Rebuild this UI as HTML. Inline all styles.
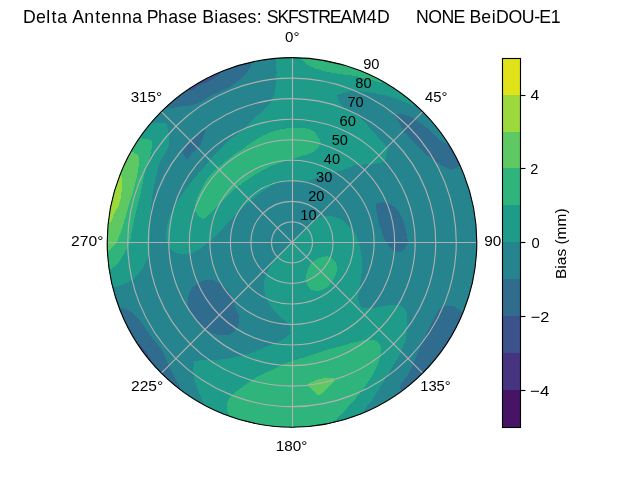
<!DOCTYPE html>
<html><head><meta charset="utf-8"><title>Delta Antenna Phase Biases</title>
<style>
html,body{margin:0;padding:0;background:#fff;}
body{width:640px;height:480px;overflow:hidden;font-family:"Liberation Sans",sans-serif;}
svg{display:block;will-change:transform;}
text{font-family:"Liberation Sans",sans-serif;fill:#000;white-space:pre;}
</style></head><body>
<svg width="640" height="480" viewBox="0 0 640 480">
<rect width="640" height="480" fill="#fff"/>
<defs><clipPath id="disk"><circle cx="292.0" cy="242.4" r="184.8"/></clipPath></defs>
<g clip-path="url(#disk)" shape-rendering="crispEdges">
<circle cx="292.0" cy="242.4" r="186.8" fill="#25848e"/>
<path d="M150.0 123.0C153.4 124.0 162.4 122.0 165.0 123.0C167.6 124.0 167.4 126.7 168.0 130.0C168.6 133.3 170.1 141.4 169.0 146.0C167.9 150.6 162.1 156.3 160.0 162.0C157.9 167.7 155.3 179.7 154.0 186.0C152.7 192.3 151.6 200.3 151.0 206.0C150.4 211.7 150.1 220.9 150.0 226.0C149.9 231.1 150.1 238.0 150.0 242.0C149.9 246.0 150.0 250.3 149.0 254.0C148.0 257.7 145.4 264.3 143.0 268.0C140.6 271.7 135.0 277.6 132.0 280.0C129.0 282.4 124.4 284.0 122.0 285.0C119.6 286.0 118.0 286.2 115.0 287.0C112.0 287.8 101.2 290.5 101.2 290.5L97.5 272.2L95.5 253.7L95.3 235.1L96.9 216.6L100.2 198.3L105.2 180.4L111.9 163.0L120.2 146.3L130.1 130.5L141.4 115.7C141.4 115.7 146.6 122.0 150.0 123.0Z" fill="#1e9c89"/>
<path d="M275.4 58.4C275.7 62.1 276.7 67.5 276.6 72.0C276.5 76.5 275.8 85.7 275.0 90.0C274.2 94.3 272.6 99.1 271.0 102.0C269.4 104.9 266.7 107.4 264.0 110.0C261.3 112.6 255.0 117.1 252.0 120.0C249.0 122.9 245.8 127.5 243.0 130.0C240.2 132.5 235.5 134.9 232.5 137.5C229.5 140.1 225.0 145.0 222.0 148.0C219.0 151.0 214.3 155.5 211.5 158.5C208.7 161.5 205.0 166.1 202.5 169.0C200.0 171.9 196.2 175.9 194.0 178.5C191.8 181.1 188.9 185.0 187.0 187.5C185.1 190.0 182.8 193.4 181.0 196.0C179.2 198.6 176.5 202.6 174.7 206.0C172.9 209.4 169.9 216.1 168.7 219.5C167.5 222.9 166.5 227.0 166.2 230.0C165.9 233.0 166.0 237.9 166.5 240.5C167.0 243.1 168.0 246.2 169.5 248.0C171.0 249.8 174.4 252.4 177.0 253.2C179.6 254.0 184.7 254.0 187.5 253.7C190.3 253.4 193.9 252.2 196.5 251.0C199.1 249.8 203.1 246.8 205.5 245.0C207.9 243.2 211.1 239.9 213.0 238.2C214.9 236.5 217.1 235.0 219.0 233.0C220.9 231.0 224.1 226.6 226.5 224.0C228.9 221.4 232.9 217.6 235.5 215.0C238.1 212.4 241.9 208.4 244.5 206.0C247.1 203.6 251.0 200.5 253.5 198.5C256.0 196.5 259.1 194.0 262.0 192.0C264.9 190.0 271.0 186.0 274.0 184.5C277.0 183.0 280.2 181.9 283.0 181.5C285.8 181.1 290.5 181.3 293.5 181.5C296.5 181.7 301.6 182.8 304.0 182.7C306.4 182.6 307.4 181.5 310.0 180.5C312.6 179.5 318.6 177.2 322.0 176.0C325.4 174.8 331.4 172.9 334.0 172.2C336.6 171.5 338.0 171.6 340.0 171.0C342.0 170.4 345.7 168.9 348.0 168.0C350.3 167.1 354.3 165.5 356.0 165.0C357.7 164.5 358.0 164.8 360.0 164.7C362.0 164.6 367.4 164.4 370.0 164.2C372.6 164.0 375.9 163.7 378.0 163.2C380.1 162.7 383.8 162.2 385.0 161.0C386.2 159.8 386.1 156.8 386.5 155.0C386.9 153.2 387.7 148.2 387.7 148.2C387.7 148.2 381.7 141.0 379.5 138.5C377.3 136.0 373.9 133.1 372.0 131.0C370.1 128.9 368.1 125.9 366.5 124.0C364.9 122.1 362.4 119.7 360.5 118.0C358.6 116.3 355.1 113.4 353.0 112.0C350.9 110.6 347.2 109.3 345.5 108.2C343.8 107.1 342.2 106.3 341.0 104.5C339.8 102.7 336.8 97.1 337.2 95.5C337.6 93.9 341.7 93.8 344.0 93.2C346.3 92.6 350.2 91.2 353.0 91.0C355.8 90.8 360.5 91.4 363.5 91.7C366.5 92.0 370.8 92.7 374.0 93.2C377.2 93.7 383.1 94.8 386.0 95.5C388.9 96.2 392.0 97.1 394.5 98.0C397.0 98.9 401.3 100.6 403.5 101.5C405.7 102.4 408.5 104.0 410.0 104.5C411.5 105.0 412.2 106.3 414.0 105.0C415.8 103.7 422.7 95.2 422.7 95.2L407.0 82.7L390.1 71.8L372.3 62.7L353.5 55.5L334.2 50.2L314.4 46.9L294.4 45.6L274.3 46.4C274.3 46.4 275.1 54.7 275.4 58.4Z" fill="#1e9c89"/>
<path d="M292.0 242.4C292.0 242.4 298.0 236.4 300.5 233.9C303.0 231.4 309.5 224.7 309.5 224.7C309.5 224.7 313.6 220.7 315.5 219.5C317.4 218.3 320.6 216.9 323.0 216.5C325.4 216.1 329.4 216.1 332.0 216.5C334.6 216.9 338.6 218.2 341.0 219.5C343.4 220.8 346.9 224.0 348.5 225.5C350.1 227.0 351.5 228.9 352.5 230.0C353.5 231.1 354.6 231.8 355.5 233.5C356.4 235.2 357.8 239.6 358.5 242.2C359.2 244.8 360.2 248.7 360.7 251.5C361.2 254.3 361.9 258.8 362.0 262.0C362.1 265.2 361.8 270.6 361.5 274.0C361.2 277.4 360.5 282.9 360.0 286.0C359.5 289.1 357.9 293.0 358.0 296.0C358.1 299.0 359.0 305.3 361.0 307.0C363.0 308.7 368.4 308.2 372.0 308.0C375.6 307.8 382.3 306.0 386.0 305.6C389.7 305.2 395.3 304.5 398.0 305.0C400.7 305.5 403.7 307.1 405.0 309.0C406.3 310.9 406.9 313.9 407.0 318.0C407.1 322.1 406.9 333.1 406.0 338.0C405.1 342.9 403.0 347.7 401.0 352.0C399.0 356.3 394.7 363.4 392.0 368.0C389.3 372.6 384.9 379.4 382.0 384.0C379.1 388.6 374.6 396.1 372.0 400.0C369.4 403.9 364.4 407.7 364.0 411.0C363.6 414.3 369.3 423.4 369.3 423.4L350.8 430.2L331.8 435.1L312.3 438.1L292.7 439.2L273.0 438.3L253.6 435.4L234.5 430.6L216.0 423.9L198.2 415.4C198.2 415.4 203.5 407.0 204.0 404.8C204.5 402.6 202.7 401.8 202.0 400.0C201.3 398.2 199.9 394.6 199.0 392.5C198.1 390.4 196.7 387.1 196.0 385.0C195.3 382.9 194.7 380.0 194.3 378.0C193.9 376.0 193.2 373.4 193.2 371.0C193.2 368.6 194.2 361.2 194.2 361.2C194.2 361.2 202.0 359.9 205.5 359.7C209.0 359.5 215.4 359.9 219.0 359.7C222.6 359.5 227.6 358.8 231.0 358.2C234.4 357.6 239.6 356.2 243.0 355.2C246.4 354.2 251.8 352.7 255.0 351.5C258.2 350.3 262.5 348.2 265.5 347.0C268.5 345.8 273.5 344.3 276.0 343.2C278.5 342.1 281.0 340.8 283.0 339.5C285.0 338.2 290.2 334.0 290.2 334.0C290.2 334.0 290.5 329.5 290.2 328.0C289.9 326.5 289.2 324.9 288.0 323.5C286.8 322.1 283.8 319.9 282.0 318.2C280.2 316.5 277.0 313.5 275.2 311.5C273.4 309.5 270.6 306.1 269.2 304.0C267.8 301.9 266.2 298.9 265.5 296.5C264.8 294.1 264.1 290.1 264.0 287.5C263.9 284.9 264.1 281.1 264.7 278.5C265.3 275.9 267.3 271.9 268.5 269.5C269.7 267.1 271.0 264.5 273.0 262.0C275.0 259.5 279.8 254.8 282.5 252.0C285.2 249.2 292.0 242.4 292.0 242.4Z" fill="#1e9c89"/>
<path d="M140.0 138.0C143.0 139.3 149.3 138.9 151.0 140.0C152.7 141.1 152.1 143.7 152.0 146.0C151.9 148.3 151.0 152.3 150.0 156.0C149.0 159.7 146.3 166.9 145.0 172.0C143.7 177.1 142.3 186.3 141.0 192.0C139.7 197.7 137.3 206.6 136.0 212.0C134.7 217.4 132.9 225.7 132.0 230.0C131.1 234.3 131.0 238.9 130.0 242.0C129.0 245.1 126.6 249.1 125.0 252.0C123.4 254.9 121.0 259.6 119.0 262.0C117.0 264.4 114.1 267.7 111.0 269.0C107.9 270.3 97.3 271.0 97.3 271.0L95.5 252.7L95.4 234.3L97.0 216.0L100.3 197.9L105.3 180.2L111.9 163.1L120.1 146.6L129.8 131.0C129.8 131.0 137.0 136.7 140.0 138.0Z" fill="#2fb47c"/>
<path d="M320.5 143.0C320.2 144.8 317.5 148.2 316.0 149.7C314.5 151.2 311.9 152.6 310.0 153.5C308.1 154.4 304.9 155.0 302.5 155.7C300.1 156.4 296.3 157.8 293.5 158.7C290.7 159.6 286.0 160.7 283.0 161.7C280.0 162.7 275.5 164.2 272.5 165.5C269.5 166.8 264.8 169.2 262.0 170.7C259.2 172.2 255.6 174.4 253.0 176.0C250.4 177.6 246.5 180.2 244.0 182.0C241.5 183.8 237.9 186.4 235.5 188.5C233.1 190.6 229.4 194.1 227.0 196.5C224.6 198.9 220.9 202.6 218.5 205.0C216.1 207.4 212.1 211.5 210.0 213.5C207.9 215.5 205.4 218.2 204.0 218.7C202.6 219.2 201.5 218.4 200.2 217.2C198.9 216.0 195.5 213.0 195.0 210.5C194.5 208.0 195.6 203.0 196.5 200.0C197.4 197.0 199.5 192.5 201.0 189.5C202.5 186.5 205.1 181.7 207.0 179.0C208.9 176.3 212.1 172.8 214.5 170.5C216.9 168.2 220.7 165.3 223.5 163.0C226.3 160.7 231.1 156.8 234.0 154.7C236.9 152.6 241.3 149.9 244.0 148.0C246.7 146.1 250.2 143.3 253.0 141.5C255.8 139.7 260.5 137.0 263.5 135.5C266.5 134.0 271.0 132.0 274.0 131.0C277.0 130.0 281.5 129.2 284.5 128.7C287.5 128.2 292.2 127.8 295.0 127.7C297.8 127.6 301.4 127.5 304.0 128.0C306.6 128.5 311.0 129.7 313.0 131.0C315.0 132.3 317.1 135.3 318.2 137.0C319.3 138.7 320.8 141.2 320.5 143.0Z" fill="#2fb47c"/>
<path d="M302.0 58.7C302.5 61.3 304.6 62.6 306.5 64.0C308.4 65.4 312.7 67.4 315.5 68.5C318.3 69.6 322.8 70.8 326.0 71.5C329.2 72.2 334.8 73.2 338.0 73.7C341.2 74.2 345.9 74.9 348.5 75.2C351.1 75.5 353.9 75.6 356.0 76.0C358.1 76.4 360.9 77.6 363.5 78.2C366.1 78.8 371.6 79.9 374.0 80.5C376.4 81.1 378.6 82.6 380.0 82.7C381.4 82.8 382.2 83.1 383.5 81.5C384.8 79.9 389.3 71.3 389.3 71.3L373.1 63.1L356.1 56.3L338.7 51.2L320.8 47.7L302.7 45.9C302.7 45.9 301.5 56.1 302.0 58.7Z" fill="#2fb47c"/>
<path d="M314.0 261.0C315.7 259.9 319.7 257.6 322.0 257.0C324.3 256.4 328.0 256.1 330.0 257.0C332.0 257.9 335.0 261.1 336.0 263.0C337.0 264.9 337.4 267.6 337.0 270.0C336.6 272.4 334.6 277.4 333.0 280.0C331.4 282.6 328.1 286.4 326.0 288.0C323.9 289.6 320.3 290.9 318.0 291.0C315.7 291.1 311.7 290.4 310.0 289.0C308.3 287.6 306.4 283.4 306.0 281.0C305.6 278.6 306.4 274.3 307.0 272.0C307.6 269.7 309.0 266.6 310.0 265.0C311.0 263.4 312.3 262.1 314.0 261.0Z" fill="#2fb47c"/>
<path d="M229.3 416.0C229.7 413.9 228.6 413.9 228.2 412.7C227.8 411.5 226.8 409.0 226.7 407.5C226.6 406.0 227.0 403.7 227.5 402.2C228.0 400.7 229.0 398.7 230.5 397.0C232.0 395.3 235.4 392.2 238.0 390.2C240.6 388.2 245.5 384.7 248.5 382.7C251.5 380.7 256.4 377.5 259.0 376.0C261.6 374.5 264.6 373.1 267.0 372.0C269.4 370.9 273.0 369.6 276.0 368.2C279.0 366.8 284.0 363.9 288.0 362.4C292.0 360.9 299.1 359.0 304.0 357.4C308.9 355.8 316.9 353.0 322.0 351.4C327.1 349.8 335.1 347.7 340.0 346.4C344.9 345.1 352.6 342.9 356.0 342.0C359.4 341.1 361.4 340.3 364.0 340.0C366.6 339.7 371.7 339.4 374.0 340.0C376.3 340.6 379.0 342.3 380.0 344.0C381.0 345.7 381.3 349.1 381.0 352.0C380.7 354.9 379.3 360.6 378.0 364.0C376.7 367.4 374.0 372.6 372.0 376.0C370.0 379.4 366.3 384.9 364.0 388.0C361.7 391.1 358.3 395.3 356.0 398.0C353.7 400.7 350.6 404.1 348.0 407.0C345.4 409.9 340.3 415.7 338.0 418.0C335.7 420.3 332.5 420.6 332.0 423.0C331.5 425.4 334.6 434.5 334.6 434.5L316.3 437.7L297.9 439.1L279.4 438.8L261.0 436.7L242.8 433.0L225.1 427.5C225.1 427.5 228.9 418.1 229.3 416.0Z" fill="#2fb47c"/>
<path d="M133.0 152.0C135.6 153.8 138.4 154.6 139.0 158.0C139.6 161.4 137.9 171.1 137.0 176.0C136.1 180.9 134.3 187.4 133.0 192.0C131.7 196.6 129.3 203.7 128.0 208.0C126.7 212.3 125.1 218.3 124.0 222.0C122.9 225.7 121.0 231.1 120.0 234.0C119.0 236.9 118.0 240.3 117.0 242.0C116.0 243.7 114.3 244.7 113.0 246.0C111.7 247.3 110.5 250.2 108.0 251.0C105.5 251.8 95.4 251.6 95.4 251.6L95.4 233.1L97.2 214.7L100.6 196.6L105.8 178.8L112.5 161.6L120.9 145.1C120.9 145.1 130.4 150.2 133.0 152.0Z" fill="#5ec962"/>
<path d="M308.0 385.0C308.0 383.6 311.7 382.0 314.0 381.0C316.3 380.0 321.3 378.4 324.0 378.0C326.7 377.6 331.6 377.6 333.0 378.0C334.4 378.4 334.7 379.6 334.0 381.0C333.3 382.4 330.1 386.0 328.0 388.0C325.9 390.0 321.0 394.6 319.0 395.0C317.0 395.4 315.6 392.4 314.0 391.0C312.4 389.6 308.0 386.4 308.0 385.0Z" fill="#5ec962"/>
<path d="M121.0 176.0C122.9 178.1 122.1 182.3 122.0 186.0C121.9 189.7 121.1 198.0 120.0 202.0C118.9 206.0 115.4 211.1 114.0 214.0C112.6 216.9 112.5 221.1 110.0 222.0C107.5 222.9 96.4 220.5 96.4 220.5L99.0 203.7L103.1 187.2L108.5 171.2C108.5 171.2 119.1 173.9 121.0 176.0Z" fill="#9bd93c"/>
<path d="M166.0 108.0C169.2 109.1 175.7 107.2 180.0 106.6C184.3 106.0 191.4 105.7 196.0 104.0C200.6 102.3 207.4 97.3 212.0 95.0C216.6 92.7 224.9 89.6 228.0 88.0C231.1 86.4 231.4 86.0 234.0 84.0C236.6 82.0 243.4 77.1 246.0 74.0C248.6 70.9 251.5 65.8 252.0 62.4C252.5 59.0 249.3 50.3 249.3 50.3L232.4 54.8L215.9 60.9L200.1 68.4L185.0 77.2L170.7 87.4L157.4 98.8C157.4 98.8 162.8 106.9 166.0 108.0Z" fill="#2f6c8e"/>
<path d="M205.0 130.0C203.4 130.1 193.9 138.4 191.0 141.0C188.1 143.6 186.1 146.4 185.0 148.0C183.9 149.6 182.7 150.4 183.0 152.0C183.3 153.6 185.3 159.3 187.0 159.0C188.7 158.7 193.1 151.9 195.0 150.0C196.9 148.1 199.0 147.4 200.0 146.0C201.0 144.6 201.3 142.3 202.0 140.0C202.7 137.7 206.6 129.9 205.0 130.0Z" fill="#2f6c8e"/>
<path d="M394.5 114.7C394.9 113.8 398.4 113.8 400.5 114.0C402.6 114.2 406.9 115.1 409.5 116.2C412.1 117.3 415.7 119.6 418.5 121.5C421.3 123.4 426.0 127.1 429.0 129.7C432.0 132.3 436.6 137.5 439.5 139.5C442.4 141.5 446.2 144.2 449.0 144.0C451.8 143.8 458.8 137.9 458.8 137.9L465.3 149.1L471.1 160.7C471.1 160.7 462.4 164.7 459.5 166.0C456.6 167.3 453.7 169.9 451.0 169.7C448.3 169.5 443.5 166.2 440.5 164.5C437.5 162.8 432.8 159.8 430.0 157.7C427.2 155.6 423.6 152.0 421.0 149.5C418.4 147.0 414.4 143.1 412.0 140.5C409.6 137.9 406.6 134.4 404.5 131.5C402.4 128.6 398.9 122.4 397.5 120.0C396.1 117.6 394.1 115.6 394.5 114.7Z" fill="#2f6c8e"/>
<path d="M376.0 205.0C376.7 203.3 380.0 202.1 382.0 202.0C384.0 201.9 387.6 202.6 390.0 204.0C392.4 205.4 396.9 208.9 399.0 212.0C401.1 215.1 403.7 221.7 405.0 226.0C406.3 230.3 407.7 239.4 408.0 242.0C408.3 244.6 407.7 242.7 407.0 244.0C406.3 245.3 404.9 250.0 403.0 251.0C401.1 252.0 396.4 252.3 394.0 251.0C391.6 249.7 387.9 245.0 386.0 242.0C384.1 239.0 382.3 234.0 381.0 230.0C379.7 226.0 377.7 217.6 377.0 214.0C376.3 210.4 375.3 206.7 376.0 205.0Z" fill="#2f6c8e"/>
<path d="M188.0 298.0C188.4 295.1 190.0 290.4 192.0 288.0C194.0 285.6 199.1 282.1 202.0 281.0C204.9 279.9 209.1 279.4 212.0 280.0C214.9 280.6 219.7 283.4 222.0 285.0C224.3 286.6 226.4 288.6 228.0 291.0C229.6 293.4 231.4 298.3 233.0 302.0C234.6 305.7 238.3 313.6 239.0 317.0C239.7 320.4 239.0 323.7 238.0 326.0C237.0 328.3 233.4 331.7 232.0 333.0C230.6 334.3 230.0 334.7 228.0 335.0C226.0 335.3 221.1 335.7 218.0 335.0C214.9 334.3 209.1 332.1 206.0 330.0C202.9 327.9 198.4 323.1 196.0 320.0C193.6 316.9 190.1 311.1 189.0 308.0C187.9 304.9 187.6 300.9 188.0 298.0Z" fill="#2f6c8e"/>
<path d="M120.0 308.0C122.8 307.6 125.7 308.9 128.0 310.0C130.3 311.1 133.7 313.7 136.0 316.0C138.3 318.3 141.7 322.9 144.0 326.0C146.3 329.1 149.4 334.6 152.0 338.0C154.6 341.4 159.7 346.3 162.0 350.0C164.3 353.7 166.1 360.0 168.0 364.0C169.9 368.0 173.3 374.6 175.0 378.0C176.7 381.4 180.4 385.1 180.0 388.0C179.6 390.9 172.0 398.4 172.0 398.4L158.2 386.7L145.5 373.9L134.1 359.9L124.0 344.9L115.3 329.1L108.1 312.5C108.1 312.5 117.2 308.4 120.0 308.0Z" fill="#2f6c8e"/>
<path d="M464.3 317.5C462.7 316.2 462.5 313.5 461.5 312.2C460.5 310.9 458.7 309.4 457.5 308.5C456.3 307.6 455.0 306.5 453.2 306.2C451.4 305.9 446.8 305.9 445.0 306.2C443.2 306.5 441.6 307.6 440.5 308.5C439.4 309.4 438.5 310.0 437.0 312.5C435.5 315.0 431.9 322.3 430.0 326.0C428.1 329.7 425.6 334.9 424.0 338.5C422.4 342.1 419.9 347.6 418.5 351.0C417.1 354.4 415.5 358.6 414.0 362.0C412.5 365.4 410.0 371.4 408.0 375.0C406.0 378.6 399.7 383.4 400.0 387.0C400.3 390.6 409.8 400.1 409.8 400.1L425.4 387.0L439.7 372.5L452.4 356.5L463.3 339.3L472.4 321.0C472.4 321.0 465.9 318.8 464.3 317.5Z" fill="#2f6c8e"/>
<path d="M189.7 90.5C192.2 91.4 196.6 86.6 199.5 85.2C202.4 83.8 207.6 81.9 210.0 80.7C212.4 79.5 214.5 78.2 216.0 77.0C217.5 75.8 220.5 74.8 220.5 72.5C220.5 70.2 215.7 61.0 215.7 61.0L198.4 69.3L182.1 79.2C182.1 79.2 187.2 89.6 189.7 90.5Z" fill="#3b528b"/>
<path d="M150.5 361.3C151.5 359.4 149.2 357.3 148.5 355.9C147.8 354.4 146.7 352.4 145.8 351.1C144.9 349.9 143.2 348.2 142.0 347.2C140.8 346.1 139.5 343.3 137.4 343.7C135.4 344.2 127.4 350.3 127.4 350.3L134.1 359.8L141.3 369.0C141.3 369.0 149.5 363.1 150.5 361.3Z" fill="#3b528b"/>
</g>
<g stroke="#b0b0b0" stroke-width="1.11" fill="none"><line x1="292.50" y1="242.40" x2="292.50" y2="57.60"/><line x1="292.00" y1="242.40" x2="422.67" y2="111.73"/><line x1="292.00" y1="242.50" x2="476.80" y2="242.50"/><line x1="292.00" y1="242.40" x2="422.67" y2="373.07"/><line x1="292.50" y1="242.40" x2="292.50" y2="427.20"/><line x1="292.00" y1="242.40" x2="161.33" y2="373.07"/><line x1="292.00" y1="242.50" x2="107.20" y2="242.50"/><line x1="292.00" y1="242.40" x2="161.33" y2="111.73"/><circle cx="292.0" cy="242.4" r="20.533"/><circle cx="292.0" cy="242.4" r="41.067"/><circle cx="292.0" cy="242.4" r="61.600"/><circle cx="292.0" cy="242.4" r="82.133"/><circle cx="292.0" cy="242.4" r="102.667"/><circle cx="292.0" cy="242.4" r="123.200"/><circle cx="292.0" cy="242.4" r="143.733"/><circle cx="292.0" cy="242.4" r="164.267"/></g>
<circle cx="292.0" cy="242.4" r="184.8" fill="none" stroke="#000" stroke-width="1.11"/>
<g>
<text x="484.30" y="246.00" font-size="14.80" textLength="23.20" lengthAdjust="spacingAndGlyphs">90°</text>
</g>
<rect x="503" y="390" width="17" height="37" fill="#471365"/>
<rect x="503" y="353" width="17" height="37" fill="#463480"/>
<rect x="503" y="316" width="17" height="37" fill="#3b528b"/>
<rect x="503" y="279" width="17" height="37" fill="#2f6c8e"/>
<rect x="503" y="242" width="17" height="37" fill="#25848e"/>
<rect x="503" y="205" width="17" height="37" fill="#1e9c89"/>
<rect x="503" y="168" width="17" height="37" fill="#2fb47c"/>
<rect x="503" y="132" width="17" height="36" fill="#5ec962"/>
<rect x="503" y="95" width="17" height="37" fill="#9bd93c"/>
<rect x="503" y="59" width="17" height="36" fill="#dfe318"/>
<rect x="502.5" y="58.5" width="18" height="369" fill="none" stroke="#000" stroke-width="1.11"/>
<line x1="520.5" y1="95.5" x2="525.5" y2="95.5" stroke="#000" stroke-width="1.11"/>
<line x1="520.5" y1="168.5" x2="525.5" y2="168.5" stroke="#000" stroke-width="1.11"/>
<line x1="520.5" y1="242.5" x2="525.5" y2="242.5" stroke="#000" stroke-width="1.11"/>
<line x1="520.5" y1="316.5" x2="525.5" y2="316.5" stroke="#000" stroke-width="1.11"/>
<line x1="520.5" y1="390.5" x2="525.5" y2="390.5" stroke="#000" stroke-width="1.11"/>
<g>
<text transform="scale(1.0000 1)" x="22.95 35.98 46.37 51.44 57.29" y="23.00" font-size="17.70">Delta</text>
<text transform="scale(1.0000 1)" x="72.31 84.23 95.20 101.11 111.48 121.98 132.30" y="23.00" font-size="17.70">Antenna</text>
<text transform="scale(1.0000 1)" x="146.69 157.98 168.30 178.23 187.23" y="23.00" font-size="17.70">Phase</text>
<text transform="scale(1.0000 1)" x="202.31 214.25 218.67 228.60 237.61 247.60 256.82" y="23.00" font-size="17.70">Biases:</text>
<text transform="scale(1.0000 1)" x="266.75 277.43 288.12 297.50 308.24 318.20 329.68 340.56 351.97 366.85 377.07" y="23.00" font-size="17.70">SKFSTREAM4D</text>
<text transform="scale(1.0000 1)" x="416.01 428.27 441.51 453.43" y="23.00" font-size="17.70">NONE</text>
<text transform="scale(1.0000 1)" x="469.55 481.35 491.74 496.07 508.51 521.63 534.14 539.30 550.79" y="23.00" font-size="17.70">BeiDOU-E1</text>
<text x="285.10" y="42.00" font-size="14.80" textLength="14.45" lengthAdjust="spacingAndGlyphs">0°</text>
<text x="424.95" y="102.00" font-size="14.80" textLength="22.41" lengthAdjust="spacingAndGlyphs">45°</text>
<text x="420.20" y="391.00" font-size="14.80" textLength="30.55" lengthAdjust="spacingAndGlyphs">135°</text>
<text x="275.80" y="451.00" font-size="14.80" textLength="31.60" lengthAdjust="spacingAndGlyphs">180°</text>
<text x="131.00" y="391.00" font-size="14.80" textLength="32.26" lengthAdjust="spacingAndGlyphs">225°</text>
<text x="71.10" y="246.00" font-size="14.80" textLength="32.35" lengthAdjust="spacingAndGlyphs">270°</text>
<text x="130.65" y="102.00" font-size="14.80" textLength="31.50" lengthAdjust="spacingAndGlyphs">315°</text>
<text x="300.35" y="220.00" font-size="14.80" textLength="16.30" lengthAdjust="spacingAndGlyphs">10</text>
<text x="308.15" y="201.00" font-size="14.80" textLength="16.20" lengthAdjust="spacingAndGlyphs">20</text>
<text x="316.05" y="182.00" font-size="14.80" textLength="16.20" lengthAdjust="spacingAndGlyphs">30</text>
<text x="323.85" y="164.00" font-size="14.80" textLength="16.20" lengthAdjust="spacingAndGlyphs">40</text>
<text x="331.75" y="145.00" font-size="14.80" textLength="16.20" lengthAdjust="spacingAndGlyphs">50</text>
<text x="339.55" y="126.00" font-size="14.80" textLength="16.40" lengthAdjust="spacingAndGlyphs">60</text>
<text x="347.45" y="107.00" font-size="14.80" textLength="16.20" lengthAdjust="spacingAndGlyphs">70</text>
<text x="355.35" y="88.00" font-size="14.80" textLength="16.30" lengthAdjust="spacingAndGlyphs">80</text>
<text x="363.15" y="69.00" font-size="14.80" textLength="16.30" lengthAdjust="spacingAndGlyphs">90</text>
<text x="530.05" y="396.00" font-size="14.80" textLength="19.24" lengthAdjust="spacingAndGlyphs">−4</text>
<text x="530.80" y="322.00" font-size="14.80" textLength="18.66" lengthAdjust="spacingAndGlyphs">−2</text>
<text x="531.60" y="248.00" font-size="14.80" textLength="8.20" lengthAdjust="spacingAndGlyphs">0</text>
<text x="530.30" y="174.00" font-size="14.80" textLength="8.05" lengthAdjust="spacingAndGlyphs">2</text>
<text x="530.40" y="100.00" font-size="14.80" textLength="8.80" lengthAdjust="spacingAndGlyphs">4</text>
<text x="566.20" y="278.95" font-size="14.80" textLength="70.50" lengthAdjust="spacingAndGlyphs" transform="rotate(-90 566.20 278.95)">Bias (mm)</text>
</g>
</svg>
</body></html>
